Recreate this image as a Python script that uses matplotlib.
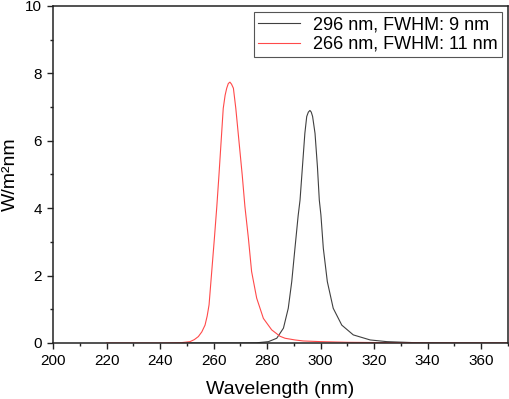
import matplotlib.pyplot as plt
from matplotlib.ticker import MultipleLocator

# Spectra
wl_296 = [250, 270, 276, 280.5, 283.6, 286.1, 287.9, 289.2, 290.4, 291.6, 292.3,
          293.2, 294.1, 294.8, 295.4, 296.0, 296.5, 297.0, 297.9, 298.8, 299.5,
          300.1, 301.0, 302.5, 304.7, 307.9, 312.2, 318.5, 324.7, 335, 350, 370]
val_296 = [0, 0, 0.005, 0.04, 0.14, 0.44, 1.03, 1.82, 2.81, 3.78, 4.24,
           5.23, 6.22, 6.72, 6.85, 6.90, 6.85, 6.72, 6.22, 5.23, 4.24,
           3.80, 2.81, 1.82, 1.03, 0.53, 0.24, 0.09, 0.04, 0.01, 0, 0]

wl_266 = [220, 240, 248, 251.2, 252.8, 254.3, 255.6, 256.8, 257.6, 258.3, 259.3,
          260.3, 261.2, 262.0, 262.8, 263.6, 264.3, 264.9, 265.5, 266.1, 266.7,
          267.4, 268.3, 269.5, 270.7, 271.7, 273.0, 274.2, 276.1, 278.6, 281.7,
          284.8, 286.7, 290.4, 293.5, 300, 310, 325, 340, 370]
val_266 = [0, 0, 0.01, 0.04, 0.1, 0.19, 0.33, 0.53, 0.8, 1.13, 2.12,
           3.11, 4.05, 4.98, 5.97, 6.96, 7.35, 7.56, 7.70, 7.74, 7.68,
           7.56, 6.96, 5.97, 4.98, 4.05, 3.11, 2.12, 1.33, 0.73, 0.39,
           0.2, 0.14, 0.09, 0.06, 0.04, 0.02, 0.01, 0, 0]

labels = ['296 nm, FWHM: 9 nm', '266 nm, FWHM: 11 nm']

plt.rcParams['font.family'] = ['Liberation Sans', 'DejaVu Sans']

fig = plt.figure(figsize=(5.1, 3.99), dpi=100)
ax = fig.add_axes([0.104, 0.1404, 0.892, 0.8446])

ax.plot(wl_296, val_296, color='#404040', lw=0.8, label=labels[0])
ax.plot(wl_266, val_266, color='#ff4a4a', lw=0.8, label=labels[1])

ax.set_xlim(200, 370)
ax.set_ylim(0, 10)
ax.xaxis.set_major_locator(MultipleLocator(20))
ax.xaxis.set_minor_locator(MultipleLocator(10))
ax.yaxis.set_major_locator(MultipleLocator(2))
ax.yaxis.set_minor_locator(MultipleLocator(1))
ax.tick_params(which='major', direction='out', length=4, width=1, labelsize=11,
               colors='#222222', pad=4)
ax.tick_params(which='minor', direction='out', length=2.5, width=1, colors='#222222')
ax.tick_params(labelcolor='black')
for s in ax.spines.values():
    s.set_linewidth(1.1)
    s.set_color('#222222')

ax.set_xlabel('Wavelength (nm)', fontsize=14, labelpad=9)
ax.set_ylabel('W/m²nm', fontsize=14, labelpad=4)

leg = ax.legend(loc='upper right', fontsize=13, fancybox=False, framealpha=1,
                edgecolor='#555555', handlelength=2.3, borderpad=0.25,
                labelspacing=0.12, borderaxespad=0.35, handletextpad=0.7)
leg.get_frame().set_linewidth(0.8)

fig.savefig('out.png', dpi=100)
